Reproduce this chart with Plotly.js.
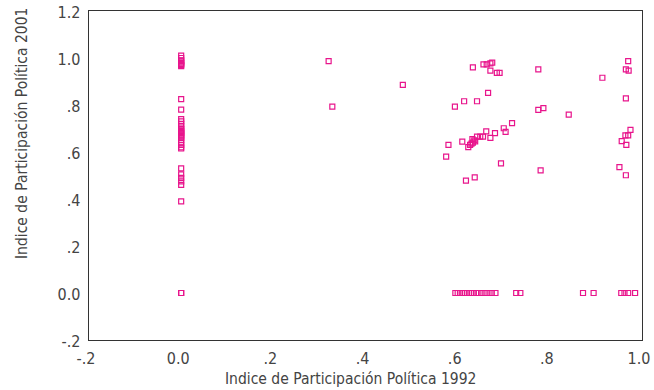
<!DOCTYPE html>
<html>
<head>
<meta charset="utf-8">
<script src="https://cdn.plot.ly/plotly-3.0.1.min.js"></script>
<style>html,body{margin:0;padding:0;background:#fff;}#chart{width:654px;height:390px;}</style>
</head>
<body>
<div id="chart"></div>
<script>
// Countries with index 0 in 1992 (x = 0)
const zeroColY = [1.01, 1.00, 0.99, 0.985, 0.98, 0.975, 0.97, 0.965, 0.825, 0.78, 0.74, 0.73, 0.72, 0.71, 0.70, 0.695, 0.69, 0.685, 0.68, 0.675, 0.67, 0.665, 0.66, 0.65, 0.64, 0.63, 0.62, 0.615, 0.53, 0.505, 0.49, 0.475, 0.46, 0.39, 0.0, 0.0];
// Countries with index 0 in 2001 (y = 0)
const zeroRowX = [0.595, 0.600, 0.605, 0.610, 0.615, 0.620, 0.625, 0.630, 0.635, 0.640, 0.645, 0.652, 0.660, 0.667, 0.674, 0.682, 0.727, 0.736, 0.872, 0.895, 0.955, 0.962, 0.970, 0.985];
// Other observations
const otherX = [0.320, 0.328, 0.481, 0.575, 0.580, 0.594, 0.610, 0.614, 0.618, 0.623, 0.627, 0.630, 0.633, 0.636, 0.638, 0.632, 0.633, 0.637, 0.642, 0.642, 0.649, 0.655, 0.656, 0.662, 0.663, 0.666, 0.671, 0.675, 0.671, 0.671, 0.681, 0.685, 0.691, 0.694, 0.700, 0.704, 0.718, 0.775, 0.775, 0.780, 0.786, 0.841, 0.914, 0.951, 0.956, 0.964, 0.965, 0.965, 0.965, 0.966, 0.970, 0.970, 0.971, 0.975];
const otherY = [0.987, 0.793, 0.886, 0.580, 0.630, 0.793, 0.644, 0.816, 0.478, 0.621, 0.630, 0.636, 0.640, 0.650, 0.645, 0.655, 0.960, 0.492, 0.816, 0.665, 0.665, 0.665, 0.973, 0.688, 0.973, 0.852, 0.977, 0.980, 0.946, 0.660, 0.680, 0.937, 0.937, 0.552, 0.701, 0.686, 0.723, 0.952, 0.779, 0.522, 0.787, 0.759, 0.916, 0.536, 0.646, 0.671, 0.952, 0.828, 0.501, 0.630, 0.987, 0.671, 0.946, 0.694];

const xTickVals = [-0.2, 0, 0.2, 0.4, 0.6, 0.8, 1.0];
const xTickText = ['-.2', '0.0', '.2', '.4', '.6', '.8', '1.0'];
const yTickVals = [-0.2, 0, 0.2, 0.4, 0.6, 0.8, 1.0, 1.2];
const yTickText = ['-.2', '0.0', '.2', '.4', '.6', '.8', '1.0', '1.2'];

const xTitle = 'Indice de Participación Política 1992';
const yTitle = 'Indice de Participación Política 2001';

const xs = zeroColY.map(() => 0).concat(zeroRowX, otherX);
const ys = zeroColY.concat(zeroRowX.map(() => 0), otherY);

const FONT = 'Liberation Sans Narrow, DejaVu Sans Condensed, Arial Narrow, sans-serif';
const TXT = '#444444';
const PINK = '#E8158C';

const trace = {
  type: 'scatter', mode: 'markers', x: xs, y: ys,
  marker: {symbol: 'square-open', size: 5, color: PINK, line: {width: 1.2, color: PINK}},
  hoverinfo: 'x+y'
};

const layout = {
  width: 654, height: 390,
  margin: {l: 89, r: 12, t: 11, b: 50},
  paper_bgcolor: '#ffffff', plot_bgcolor: '#ffffff',
  showlegend: false,
  font: {family: FONT, size: 16, color: TXT},
  xaxis: {
    range: [-0.2, 1.0], tickvals: xTickVals, ticktext: xTickText,
    showgrid: false, zeroline: false, ticks: '',
    showline: true, mirror: true, linecolor: '#333333', linewidth: 1.3,
    ticklabelshift: -3, ticklabelstandoff: 3,
    tickfont: {family: FONT, size: 16, color: TXT}
  },
  yaxis: {
    range: [-0.2, 1.2], tickvals: yTickVals, ticktext: yTickText,
    showgrid: false, zeroline: false, ticks: '',
    showline: true, mirror: true, linecolor: '#333333', linewidth: 1.3,
    ticklabelshift: 1, ticklabelstandoff: 4,
    tickfont: {family: FONT, size: 16, color: TXT}
  },
  annotations: [{
    text: yTitle, textangle: -90, showarrow: false,
    xref: 'paper', yref: 'paper', x: -0.12, y: 0.628, xanchor: 'center', yanchor: 'middle',
    font: {family: FONT, size: 15.5, color: TXT}
  }, {
    text: xTitle, showarrow: false,
    xref: 'paper', yref: 'paper', x: 0.472, y: -0.1185, xanchor: 'center', yanchor: 'middle',
    font: {family: FONT, size: 15.5, color: TXT}
  }]
};

Plotly.newPlot('chart', [trace], layout, {displayModeBar: false, staticPlot: true});
</script>
</body>
</html>
